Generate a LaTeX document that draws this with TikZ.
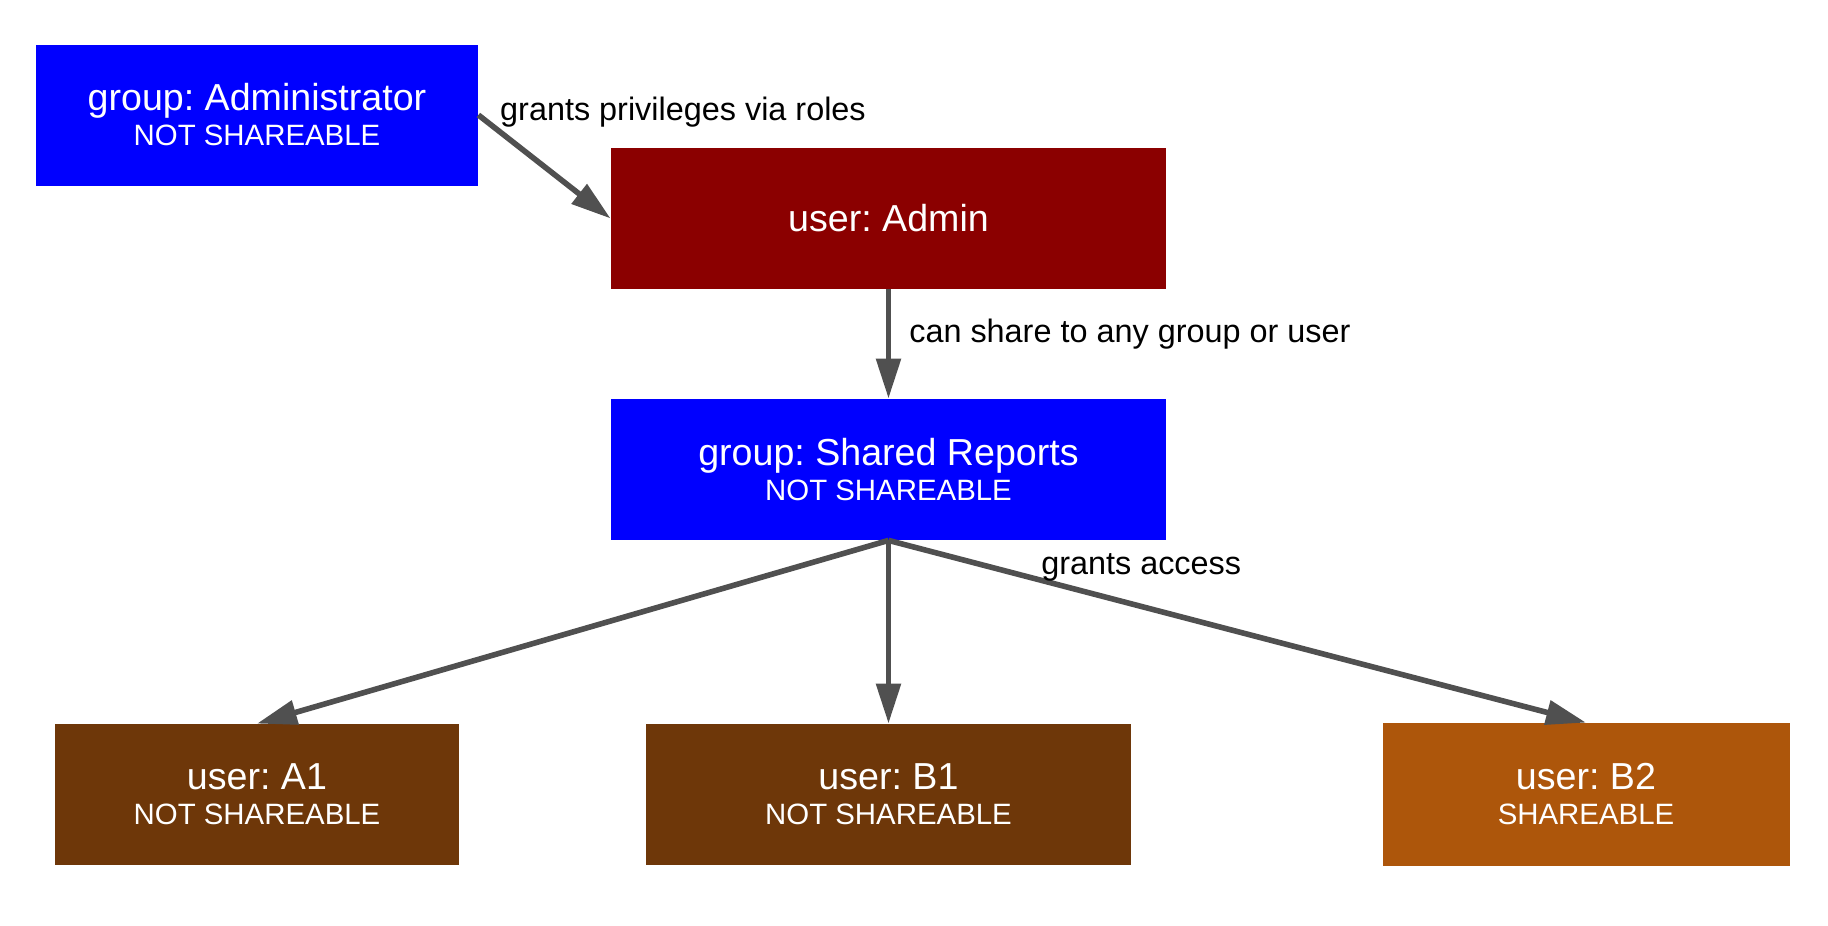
\documentclass[tikz,border=0pt]{standalone}
\usepackage{fontspec}
\setmainfont{Liberation Sans}
\usetikzlibrary{arrows.meta}
\frenchspacing

\definecolor{grpblue}{HTML}{0000FF}
\definecolor{admred}{HTML}{8B0000}
\definecolor{usrbrown}{HTML}{6E3709}
\definecolor{shrorange}{HTML}{AD560B}
\definecolor{linkgray}{HTML}{505050}

\newcommand{\shrtext}[1]{{\fontsize{14.7}{17.5}\selectfont #1}}

\tikzset{
  box/.style={rectangle, text=white, align=center, inner sep=0pt,
    minimum height=70.5pt, font=\fontsize{18.8}{17.5}\selectfont},
  lbl/.style={font=\fontsize{16.2}{18}\selectfont, inner sep=0pt, text=black},
  link/.style={draw=linkgray, line width=2.8pt,
    -{Triangle[length=20pt,width=12pt]}}
}

\begin{document}
\begin{tikzpicture}[x=0.5pt, y=-0.5pt]
\useasboundingbox (0,0) rectangle (1828,926);

% top row
\node[box, fill=grpblue, minimum width=221pt] (admgroup) at (257,115)
  {group: Administrator\\\shrtext{NOT SHAREABLE}};
\node[box, fill=admred, minimum width=277.5pt] (admuser) at (888.5,218.5)
  {user: Admin};

% shared group
\node[box, fill=grpblue, minimum width=277.5pt] (shared) at (888.5,469.5)
  {group: Shared Reports\\\shrtext{NOT SHAREABLE}};

% users
\node[box, fill=usrbrown, minimum width=202pt] (usera1) at (257,794.5)
  {user: A1\\\shrtext{NOT SHAREABLE}};
\node[box, fill=usrbrown, minimum width=242.5pt] (userb1) at (888.5,794.5)
  {user: B1\\\shrtext{NOT SHAREABLE}};
\node[box, fill=shrorange, minimum width=203.5pt, minimum height=71.5pt] (userb2) at (1586,794.5)
  {user: B2\\\shrtext{SHAREABLE}};

\draw[link] (admgroup.east) -- (admuser.west)
  node[lbl, pos=0, anchor=west, xshift=9.5pt, yshift=1.3pt] {grants privileges via roles};
\draw[link] (admuser.south) -- (shared.north)
  node[lbl, pos=0.5, anchor=west, xshift=9pt, yshift=4.8pt] {can share to any group or user};
\draw[link] (shared.south) -- (usera1.north);
\draw[link] (shared.south) -- (userb1.north);
\draw[link] (shared.south) -- (userb2.north)
  node[lbl, pos=0.22, anchor=west, xshift=-1.75pt, yshift=6.3pt] {grants access};
\end{tikzpicture}
\end{document}
